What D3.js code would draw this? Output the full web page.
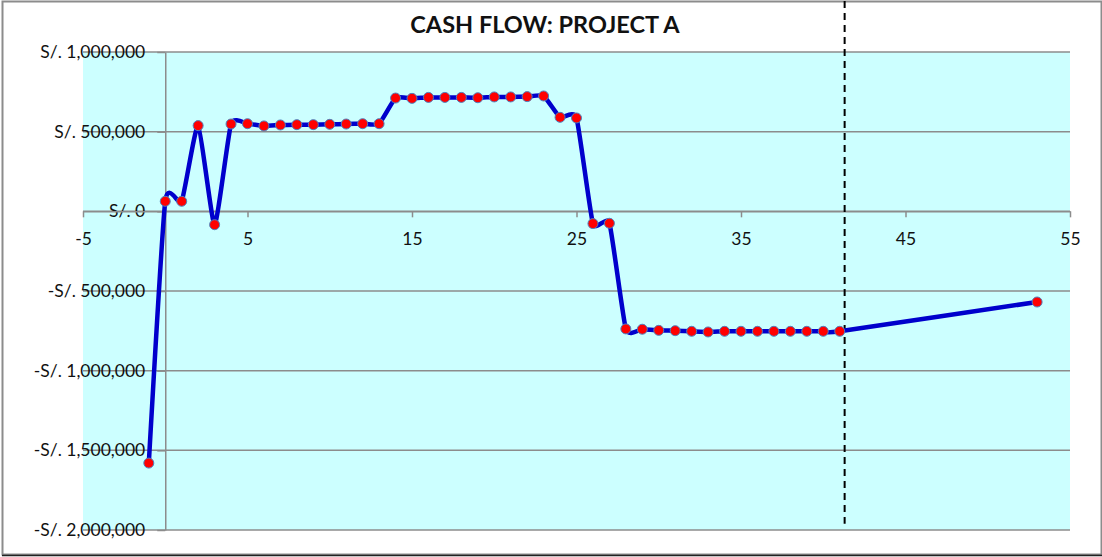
<!DOCTYPE html>
<html>
<head>
<meta charset="utf-8">
<script src="https://cdn.jsdelivr.net/npm/d3@7"></script>
<style>
  body { margin: 0; background: #fff; }
  svg text { font-family: Lato, "Open Sans", sans-serif; fill: #111; }
</style>
</head>
<body>
<div id="chart"></div>
<script>
// periods and cash flow values (S/.)
var periods = [-1, 0, 1, 2, 3, 4, 5, 6, 7, 8, 9, 10, 11, 12, 13, 14, 15, 16, 17, 18, 19, 20,
  21, 22, 23, 24, 25, 26, 27, 28, 29, 30, 31, 32, 33, 34, 35, 36, 37, 38, 39, 40, 41, 53];
var cashFlow = [-1580000, 63000, 63000, 538000, -84000, 548000, 550000, 536000, 542000, 544000,
  544000, 546000, 548000, 550000, 550000, 711000, 709000, 715000, 715000, 715000, 713000, 718000,
  718000, 720000, 724000, 590000, 586000, -77000, -75000, -738000, -740000, -747000, -749000,
  -753000, -757000, -753000, -753000, -753000, -753000, -753000, -753000, -753000, -753000, -569000];
// dashed marker line
var markerX = [41.3, 41.3];
var markerY = [1320000, -1960000];

var xTicks = [-5, 5, 15, 25, 35, 45, 55];
var yTicks = [1000000, 500000, 0, -500000, -1000000, -1500000, -2000000];
var title = "CASH FLOW: PROJECT A";

(function() {
  var W = 1102, H = 557;
  var pLeft = 83, pRight = 1070, pTop = 52, pBottom = 530;

  var svg = d3.select("#chart").append("svg").attr("width", W).attr("height", H);

  var x = d3.scaleLinear().domain([-5, 55]).range([pLeft, pRight]);
  var y = d3.scaleLinear().domain([-2000000, 1000000]).range([pBottom, pTop]);

  // outer border
  svg.append("rect").attr("x", 2.5).attr("y", 1.5).attr("width", W - 3).attr("height", H - 4)
    .style("fill", "#fff").style("stroke", "#8c8c8c").style("stroke-width", 2);
  svg.append("line").attr("x1", 2).attr("x2", W).attr("y1", 555.5).attr("y2", 555.5)
    .style("stroke", "#222").style("stroke-width", 1.5);

  // plot area
  svg.append("rect").attr("x", pLeft).attr("y", pTop).attr("width", pRight - pLeft).attr("height", pBottom - pTop)
    .style("fill", "#ccffff");

  // gridlines
  svg.append("g").selectAll("line").data(yTicks).enter().append("line")
    .attr("x1", pLeft).attr("x2", pRight)
    .attr("y1", function(d) { return y(d); }).attr("y2", function(d) { return y(d); })
    .style("stroke", "#8c8c8c").style("stroke-width", 1.5);

  // y axis at x = 0
  var fmt = function(d) {
    var s = "S/. " + d3.format(",")(Math.abs(d));
    return d < 0 ? "-" + s : s;
  };
  var yAxis = svg.append("g").attr("transform", "translate(" + x(0) + ",0)")
    .call(d3.axisLeft(y).tickValues(yTicks).tickSize(8).tickSizeOuter(0).tickPadding(12).tickFormat(fmt));
  yAxis.select(".domain").style("stroke", "#8c8c8c").style("stroke-width", 1.5);
  yAxis.selectAll(".tick line").style("stroke", "#8c8c8c").style("stroke-width", 1.5);
  yAxis.selectAll("text").style("font-size", "17.5px").style("font-family", "Lato, sans-serif").attr("fill", "#111");

  // x axis at y = 0
  var xAxis = svg.append("g").attr("transform", "translate(0," + y(0) + ")")
    .call(d3.axisBottom(x).tickValues(xTicks).tickSize(6).tickSizeOuter(0).tickPadding(15)
      .tickFormat(function(d) { return String(d); }));
  xAxis.select(".domain").style("stroke", "#8c8c8c").style("stroke-width", 1.5);
  xAxis.selectAll(".tick line").style("stroke", "#8c8c8c").style("stroke-width", 1.5);
  xAxis.selectAll("text").style("font-size", "17.5px").style("font-family", "Lato, sans-serif").attr("fill", "#111");

  // dashed vertical line
  svg.append("line")
    .attr("x1", x(markerX[0])).attr("x2", x(markerX[1]))
    .attr("y1", y(markerY[0])).attr("y2", y(markerY[1]))
    .style("stroke", "#000").style("stroke-width", 2).style("stroke-dasharray", "7,5");

  // cash flow series
  var pts = periods.map(function(p, i) { return { x: p, y: cashFlow[i] }; });
  var line = d3.line()
    .x(function(d) { return x(d.x); })
    .y(function(d) { return y(d.y); })
    .curve(d3.curveCardinal.tension(0.5));
  svg.append("path").datum(pts).attr("d", line)
    .style("fill", "none").style("stroke", "#0000cc").style("stroke-width", 4.5);

  svg.append("g").selectAll("circle").data(pts).enter().append("circle")
    .attr("cx", function(d) { return x(d.x); })
    .attr("cy", function(d) { return y(d.y); })
    .attr("r", 5)
    .style("fill", "#ff0000").style("stroke", "#4f81bd").style("stroke-width", 1);

  // title
  svg.append("text").attr("x", 545).attr("y", 33).attr("text-anchor", "middle")
    .style("font-size", "23.5px").style("font-weight", "bold").text(title);
})();
</script>
</body>
</html>
